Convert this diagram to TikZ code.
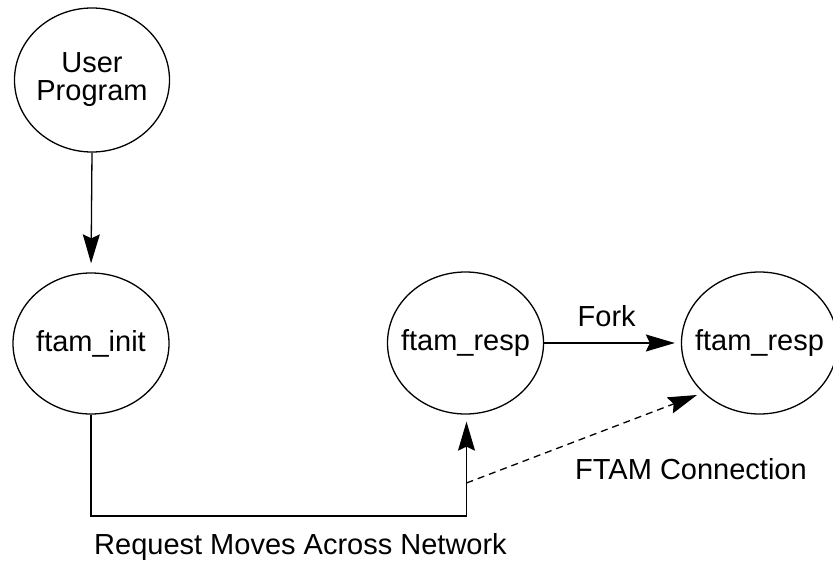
\documentclass[tikz,border=0pt]{standalone}
\usepackage{fontspec}
\setmainfont{Liberation Sans}
\usetikzlibrary{arrows.meta,shapes.geometric}
\begin{document}
\begin{tikzpicture}[x=1pt,y=-1pt,
  proc/.style={draw,ellipse,line width=1.3pt,inner xsep=-30pt,inner ysep=0pt,
    minimum width=156pt,minimum height=142pt,align=center,
    font=\fontsize{29pt}{28pt}\selectfont},
  lbl/.style={inner sep=0pt,font=\fontsize{29pt}{28pt}\selectfont},
  conn/.style={line width=1.3pt,-{Stealth[length=29pt,width=17pt,inset=4pt]}},
]
\useasboundingbox (0,0) rectangle (833,561);
% processes
\node[proc,minimum width=155pt,minimum height=144pt] (user) at (92,80) {User\\Program};
\node[proc,minimum height=141pt] (init) at (91,343.5) {ftam\_init};
\node[proc] (resp1) at (465.5,343) {ftam\_resp};
\node[proc] (resp2) at (759.5,343) {ftam\_resp};
% connectors
\draw[conn,shorten >=9pt] (user.south) -- (init.north);
\coordinate (bend) at (466.5,516);
\draw[conn,shorten >=7pt] (init.south) |- (bend) -- (bend |- resp1.south);
\draw[conn,shorten >=6pt] (resp1.east) -- (resp2.west);
\coordinate (dstart) at (466.5,483);
\coordinate (dend) at (697,395);
\draw[conn,dash pattern=on 7pt off 5pt] (dstart) -- (dend);
% labels
\node[lbl,anchor=base] (fork) at (606.7,326.7) {Fork};
\node[lbl,anchor=base west] (ftamc) at (575,479) {FTAM Connection};
\node[lbl,anchor=base west] (req) at (94,554) {Request Moves Across Network};
\end{tikzpicture}
\end{document}
